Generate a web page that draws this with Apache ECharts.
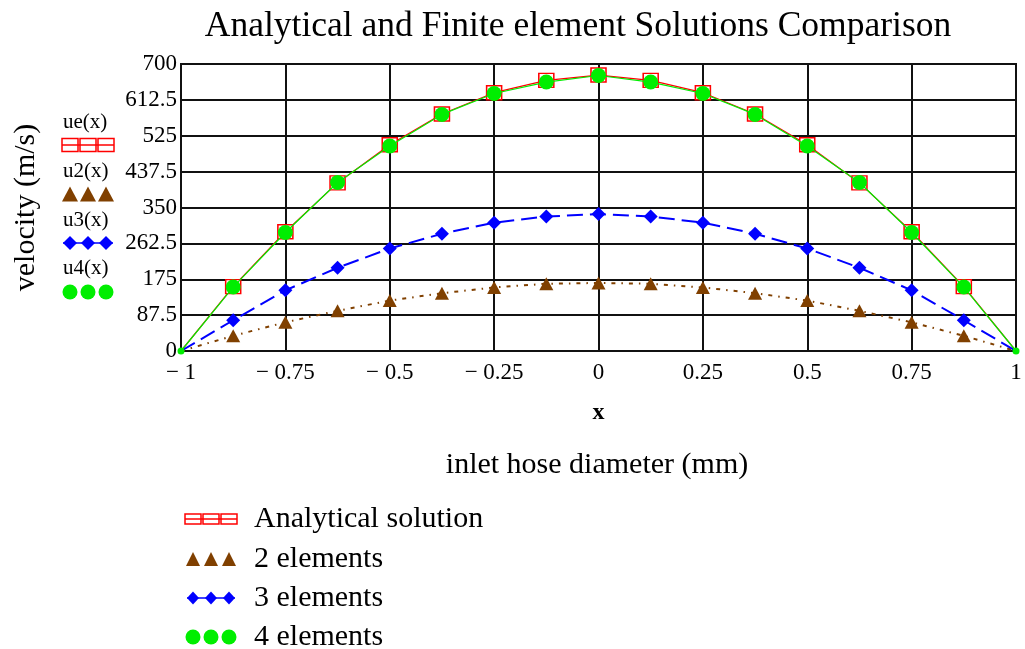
<!DOCTYPE html>
<html>
<head>
<meta charset="utf-8">
<title>Analytical and Finite element Solutions Comparison</title>
<script src="https://cdn.jsdelivr.net/npm/echarts@6/dist/echarts.min.js"></script>
<style>
  html, body { margin: 0; padding: 0; background: #fff; }
  #main { width: 1025px; height: 649px; }
</style>
</head>
<body>
<div id="main"></div>
<script>
// positions across the hose (x)
const xValues = [-1, -0.875, -0.75, -0.625, -0.5, -0.375, -0.25, -0.125, 0, 0.125, 0.25, 0.375, 0.5, 0.625, 0.75, 0.875, 1];
// ue(x) analytical solution
const ueValues = [0, 157, 291, 410, 503, 578, 630, 660, 673, 660, 630, 578, 503, 410, 291, 157, 0];
// u2(x) 2 elements
const u2Values = [0, 37, 70, 98, 123, 141, 155, 164, 166, 164, 155, 141, 123, 98, 70, 37, 0];
// u3(x) 3 elements
const u3Values = [0, 75, 148, 203, 250, 286, 313, 328, 334, 328, 313, 286, 250, 203, 148, 75, 0];
// u4(x) 4 elements
const u4Values = [0, 156, 289, 411, 500, 577, 628, 656, 672, 656, 628, 577, 500, 411, 289, 156, 0];

const seriesNames = ['Analytical solution', '2 elements', '3 elements', '4 elements'];
const traceLabels = ['ue(x)', 'u2(x)', 'u3(x)', 'u4(x)'];
const traceColors = ['#ff0000', '#804000', '#0000ff', '#00ee00'];

const FONT = "'Liberation Serif', 'Times New Roman', serif";

function pairs(ys) {
  return xValues.map((x, i) => [x, ys[i]]);
}

// three markers in a row, like the mathcad trace legend
function markerRow(kind, cx, cy, gap, w, h) {
  const items = [];
  const color = traceColors[kind];
  if (kind === 0 || kind === 2) {
    items.push({
      type: 'line',
      shape: { x1: cx - gap - w / 2, y1: cy, x2: cx + gap + w / 2, y2: cy },
      style: { stroke: color, lineWidth: 1.5 },
    });
  }
  for (let k = -1; k <= 1; k++) {
    const x = cx + k * gap;
    if (kind === 0) {
      items.push({
        type: 'rect',
        shape: { x: x - w / 2, y: cy - h / 2, width: w, height: h },
        style: { fill: 'none', stroke: color, lineWidth: 1.5 },
      });
    } else if (kind === 1) {
      items.push({
        type: 'polygon',
        shape: { points: [[x, cy - h / 2], [x + w / 2, cy + h / 2], [x - w / 2, cy + h / 2]] },
        style: { fill: color },
      });
    } else if (kind === 2) {
      items.push({
        type: 'polygon',
        shape: { points: [[x, cy - h / 2], [x + w / 2, cy], [x, cy + h / 2], [x - w / 2, cy]] },
        style: { fill: color },
      });
    } else {
      items.push({
        type: 'circle',
        shape: { cx: x, cy: cy, r: w / 2 },
        style: { fill: color },
      });
    }
  }
  return items;
}

const graphics = [];
// title
graphics.push({
  type: 'text', x: 578, y: 27,
  style: { text: 'Analytical and Finite element Solutions Comparison', font: '35.5px ' + FONT, fill: '#000', textAlign: 'center', textVerticalAlign: 'middle' },
});
// axis description under x
graphics.push({
  type: 'text', x: 597, y: 465,
  style: { text: 'inlet hose diameter (mm)', font: '30px ' + FONT, fill: '#000', textAlign: 'center', textVerticalAlign: 'middle' },
});
// trace names on the left of the y axis
const leftLabelY = [122, 171, 220, 268];
const leftMarkY = [145, 194, 243, 292];
const leftSizes = [[16, 13], [16, 15], [14, 14], [15, 15]];
for (let i = 0; i < 4; i++) {
  graphics.push({
    type: 'text', x: 63, y: leftLabelY[i],
    style: { text: traceLabels[i], font: '21px ' + FONT, fill: '#000', textAlign: 'left', textVerticalAlign: 'middle' },
  });
  graphics.push({ type: 'group', children: markerRow(i, 88, leftMarkY[i], 18, leftSizes[i][0], leftSizes[i][1]) });
}
// legend at the bottom
const legendY = [519, 559, 598, 637];
const legendSizes = [[16, 10], [14, 14], [12, 13], [15, 15]];
for (let i = 0; i < 4; i++) {
  graphics.push({ type: 'group', children: markerRow(i, 211, legendY[i], 18, legendSizes[i][0], legendSizes[i][1]) });
  graphics.push({
    type: 'text', x: 254, y: legendY[i],
    style: { text: seriesNames[i], font: '30px ' + FONT, fill: '#000', textAlign: 'left', textVerticalAlign: 'middle' },
  });
}

const chart = echarts.init(document.getElementById('main'));
const option = {
  backgroundColor: '#fff',
  animation: false,
  textStyle: { fontFamily: FONT },
  grid: {
    left: 181, right: 9, top: 64, bottom: 298,
    show: true, borderColor: '#111', borderWidth: 2,
    outerBoundsMode: 'none',
  },
  xAxis: {
    type: 'value', min: -1, max: 1, interval: 0.25,
    name: 'x', nameLocation: 'middle', nameGap: 50,
    nameTextStyle: { fontFamily: FONT, fontSize: 24, fontWeight: 'bold', color: '#000' },
    axisLine: { lineStyle: { color: '#111', width: 2 } },
    axisTick: { show: false },
    splitLine: { lineStyle: { color: '#111', width: 2 } },
    axisLabel: {
      fontFamily: FONT, fontSize: 23, color: '#000', margin: 10,
      formatter: v => (v < 0 ? '\u2212 ' + (-v) : String(v)),
    },
  },
  yAxis: {
    type: 'value', min: 0, max: 700, interval: 87.5,
    name: 'velocity (m/s)', nameLocation: 'middle', nameGap: 140, nameRotate: 90,
    nameTextStyle: { fontFamily: FONT, fontSize: 30, color: '#000' },
    axisLine: { show: true, lineStyle: { color: '#111', width: 2 } },
    axisTick: { show: false },
    splitLine: { lineStyle: { color: '#111', width: 2 } },
    axisLabel: { fontFamily: FONT, fontSize: 23, color: '#000', margin: 4 },
  },
  series: [
    {
      name: seriesNames[0], type: 'line', data: pairs(ueValues),
      symbol: 'rect', symbolSize: v => (v[1] === 0 ? 0 : [15, 14]),
      showAllSymbol: true,
      itemStyle: { color: '#fff', borderColor: traceColors[0], borderWidth: 1.5 },
      lineStyle: { color: traceColors[0], width: 1.2 },
      z: 2,
    },
    {
      name: seriesNames[1], type: 'line', data: pairs(u2Values),
      symbol: 'triangle', symbolSize: v => (v[1] === 0 ? 0 : [14, 13]),
      showAllSymbol: true,
      itemStyle: { color: traceColors[1] },
      lineStyle: { color: traceColors[1], width: 2, type: [4, 6, 1.5, 6] },
      z: 3,
    },
    {
      name: seriesNames[2], type: 'line', data: pairs(u3Values),
      symbol: 'diamond', symbolSize: v => (v[1] === 0 ? 0 : [14, 14]),
      showAllSymbol: true,
      itemStyle: { color: traceColors[2] },
      lineStyle: { color: traceColors[2], width: 2, type: [16, 7] },
      z: 4,
    },
    {
      name: seriesNames[3], type: 'line', data: pairs(u4Values),
      symbol: 'circle', symbolSize: v => (v[1] === 0 ? 7 : 15),
      showAllSymbol: true,
      itemStyle: { color: traceColors[3] },
      lineStyle: { color: traceColors[3], width: 1.2 },
      z: 5,
    },
  ],
  graphic: graphics,
};
chart.setOption(option);
</script>
</body>
</html>
